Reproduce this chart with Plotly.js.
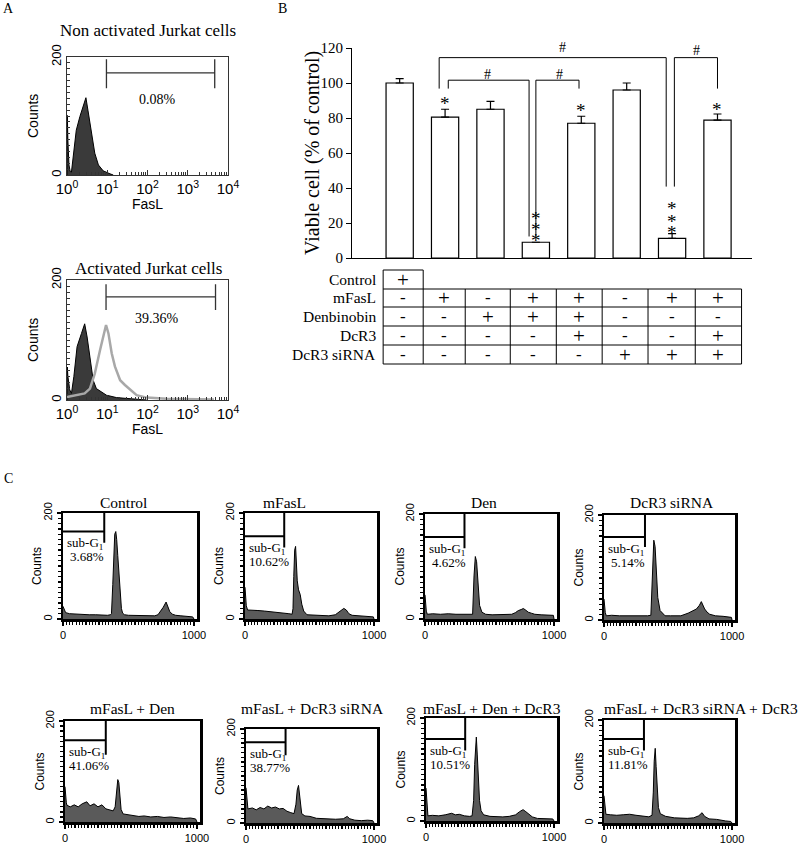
<!DOCTYPE html>
<html><head><meta charset="utf-8">
<script src="https://cdn.plot.ly/plotly-3.0.1.min.js"></script>
<style>body{margin:0;background:#fff}#chart{width:800px;height:846px}</style>
</head><body><div id="chart"></div>
<script>
// ================= DATA =================
// Panel A: FasL flow cytometry (log FasL, counts)
const nonActFasL   = [1, 1.02, 1.05, 1.12, 1.2, 1.29, 1.41, 1.7, 2.09, 2.51, 2.95, 3.31, 4.07, 4.9, 6.03, 7.94, 11.7, 14.1];
const nonActCounts = [0, 101, 60, 17, 6, 5, 31, 76, 99, 118, 131, 110, 70, 37, 17, 7, 2, 0];
const actBlackFasL   = [1, 1.02, 1.05, 1.17, 1.29, 1.48, 1.78, 2.29, 2.75, 3.16, 3.72, 4.47, 5.37, 7.24, 9.55, 17, 44.7, 95.5];
const actBlackCounts = [0, 55, 40, 17, 11, 39, 89, 111, 127, 105, 67, 33, 19, 14, 8, 4, 2, 0];
const actGrayFasL   = [1, 1.7, 2.75, 3.72, 4.9, 6.61, 7.94, 9.33, 10.7, 12.9, 15.5, 20.9, 27.5, 37.2, 53.7, 95.5, 302, 4467];
const actGrayCounts = [5, 8, 11, 19, 44, 83, 108, 125, 111, 78, 56, 33, 25, 17, 8, 4, 2, 1];
const aTitles = ['Non activated Jurkat cells', 'Activated Jurkat cells'];
const aPercents = ['0.08%', '39.36%'];
const aTickVals = [1, 10, 100, 1000, 10000];
const aTickText = ['10<sup>0</sup>', '10<sup>1</sup>', '10<sup>2</sup>', '10<sup>3</sup>', '10<sup>4</sup>'];

// Panel B: viability
const treatments = ['Control', 'mFasL', 'Den', 'mFasL+Den', 'mFasL+Den+DcR3', 'DcR3 siRNA', 'mFasL+DcR3 siRNA', 'mFasL+DcR3 siRNA+DcR3'];
const viable    = [100, 80.5, 85, 9, 77, 96, 11.2, 78.8];
const viableErr = [2.5, 4.5, 4.5, 0, 4, 4, 2.7, 3.5];
const yTicksB   = [0, 20, 40, 60, 80, 100, 120];
const rowLabels  = ['Control', 'mFasL', 'Denbinobin', 'DcR3', 'DcR3 siRNA'];
const rowControl = ['+'];
const rowMFasL   = ['-', '+', '-', '+', '+', '-', '+', '+'];
const rowDen     = ['-', '-', '+', '+', '+', '-', '-', '-'];
const rowDcR3    = ['-', '-', '-', '-', '+', '-', '-', '+'];
const rowSiRNA   = ['-', '-', '-', '-', '-', '+', '+', '+'];

// Panel C: cell cycle histograms (channel, counts)
const ctrlCh = [0, 8, 20, 50, 100, 150, 200, 250, 300, 340, 362, 370, 380, 387, 395, 403, 410, 418, 428, 437, 446, 455, 470, 500, 550, 600, 650, 700, 725, 745, 765, 787, 800, 815, 835, 860, 900, 950, 990, 1000];
const ctrlCt = [24, 20, 12, 10, 9, 8, 8, 8, 7, 7, 8, 10, 65, 135, 160, 165, 150, 120, 84, 40, 20, 11, 8, 7, 7, 6, 6, 6, 8, 14, 22, 32, 24, 14, 9, 7, 6, 5, 4, 0];
const fasCh = [0, 5, 10, 20, 50, 100, 150, 200, 250, 300, 340, 365, 372, 378, 385, 392, 398, 405, 415, 428, 440, 455, 480, 550, 600, 650, 700, 730, 750, 766, 785, 805, 830, 870, 950, 995, 1000];
const fasCt = [60, 40, 25, 17, 17, 16, 15, 14, 13, 12, 10, 9, 20, 80, 130, 137, 110, 72, 55, 46, 28, 15, 8, 7, 6, 6, 8, 13, 18, 20, 17, 10, 7, 6, 5, 4, 0];
const denCh = [0, 5, 10, 18, 60, 120, 180, 240, 300, 340, 369, 380, 390, 400, 410, 423, 441, 470, 520, 580, 640, 672, 700, 723, 745, 762, 780, 800, 825, 851, 900, 950, 995, 1000];
const denCt = [46, 30, 15, 9, 10, 9, 10, 9, 9, 8, 9, 82, 119, 109, 63, 26, 13, 9, 8, 8, 9, 9, 12, 16, 18, 20, 17, 13, 11, 9, 8, 8, 7, 0];
const siCh = [0, 5, 10, 18, 60, 120, 180, 240, 300, 340, 366, 379, 389, 399, 410, 420, 438, 477, 520, 600, 657, 690, 722, 745, 760, 786, 805, 825, 870, 930, 995, 1000];
const siCt = [40, 25, 14, 8, 9, 8, 8, 8, 7, 8, 9, 75, 152, 140, 88, 43, 18, 8, 8, 8, 13, 17, 21, 28, 35, 21, 15, 11, 8, 7, 5, 0];
const fasDenCh = [0, 5, 10, 15, 40, 70, 100, 130, 165, 190, 220, 250, 280, 310, 340, 365, 380, 392, 400, 408, 415, 425, 440, 480, 520, 560, 600, 650, 700, 750, 800, 850, 900, 950, 990, 1000];
const fasDenCt = [70, 50, 38, 33, 30, 34, 30, 36, 40, 32, 36, 30, 34, 26, 24, 22, 30, 60, 84, 78, 50, 25, 16, 14, 13, 11, 12, 10, 11, 9, 10, 8, 7, 8, 6, 0];
const fasSiCh = [0, 5, 10, 15, 50, 80, 110, 140, 170, 200, 230, 260, 290, 320, 350, 375, 390, 400, 410, 418, 425, 435, 460, 500, 550, 600, 650, 700, 760, 790, 810, 850, 900, 950, 990, 1000];
const fasSiCt = [75, 55, 40, 30, 32, 28, 33, 30, 36, 32, 34, 30, 31, 25, 22, 20, 40, 70, 80, 60, 35, 20, 15, 14, 10, 9, 9, 8, 9, 14, 9, 6, 5, 6, 5, 0];
const fasDenDcCh = [0, 5, 10, 15, 50, 100, 150, 200, 230, 260, 300, 340, 360, 372, 380, 388, 393, 400, 408, 418, 430, 450, 500, 550, 600, 650, 700, 730, 758, 780, 800, 830, 870, 950, 990, 1000];
const fasDenDcCt = [64, 40, 20, 10, 11, 10, 12, 15, 12, 13, 10, 9, 10, 40, 110, 160, 163, 130, 80, 40, 20, 12, 9, 8, 8, 9, 12, 18, 22, 18, 14, 8, 5, 4, 4, 0];
const fasSiDcCh = [0, 5, 10, 15, 50, 100, 150, 200, 250, 300, 350, 375, 385, 392, 400, 407, 415, 425, 440, 480, 550, 600, 650, 700, 740, 766, 785, 820, 880, 950, 990, 1000];
const fasSiDcCt = [53, 35, 22, 17, 16, 15, 16, 17, 15, 14, 12, 15, 60, 120, 145, 110, 60, 30, 18, 13, 10, 9, 9, 10, 14, 20, 13, 8, 7, 4, 3, 0];
const cTitles = ['Control', 'mFasL', 'Den', 'DcR3 siRNA', 'mFasL + Den', 'mFasL + DcR3 siRNA', 'mFasL + Den + DcR3', 'mFasL + DcR3 siRNA + DcR3'];
const cPercents = ['3.68%', '10.62%', '4.62%', '5.14%', '41.06%', '38.77%', '10.51%', '11.81%'];
const gateChannel = [315, 304, 306, 320, 309, 309, 306, 312];
const gateLevel   = [165, 156, 156, 158, 162, 172, 159, 163];
const gateBottom  = [144, 135, 135, 139, 133, 144, 137, 141];

// ================= LAYOUT HELPERS =================
const W = 800, H = 846;
const serif = '"Liberation Serif","Times New Roman",serif';
const sans = '"Liberation Sans",Arial,sans-serif';
const xd = (a, b) => [a / W, b / W];
const yd = (t, b) => [1 - b / H, 1 - t / H];
const annotations = [], shapes = [], traces = [];
function txt(text, px, py, size, family, extra) {
  annotations.push(Object.assign({
    text: text, x: px / W, y: 1 - py / H, xref: 'paper', yref: 'paper', showarrow: false,
    xanchor: 'center', yanchor: 'middle', font: {family: family || serif, size: size || 14, color: '#000'}
  }, extra || {}));
}
const layout = {
  width: W, height: H, margin: {l: 0, r: 0, t: 0, b: 0},
  paper_bgcolor: '#fff', plot_bgcolor: 'rgba(0,0,0,0)', showlegend: false,
  annotations: annotations, shapes: shapes, font: {family: serif, color: '#000'}
};

// ================= PANEL A =================
const minorLog = [];
for (let d = 0; d < 4; d++) for (let k = 2; k <= 9; k++) minorLog.push(k * Math.pow(10, d));
const aFrames = [[67, 228, 57, 175], [67, 228, 280, 400]];
aFrames.forEach((f, i) => {
  const n = i === 0 ? '' : '2';
  layout['xaxis' + n] = {
    domain: xd(f[0], f[1]), anchor: 'y' + n, type: 'log', range: [0, 4],
    showline: true, mirror: true, linecolor: '#333', linewidth: 1, showgrid: false, zeroline: false,
    tickvals: aTickVals, ticktext: aTickText, ticks: 'inside', ticklen: 5, tickcolor: '#333',
    tickfont: {family: sans, size: 15, color: '#000'},
    minor: {ticks: 'inside', ticklen: 3, tickvals: minorLog, tickcolor: '#333'}
  };
  layout['yaxis' + n] = {
    domain: yd(f[2], f[3]), anchor: 'x' + n, range: [0, 200],
    showline: true, mirror: true, linecolor: '#333', linewidth: 1, showgrid: false, zeroline: false,
    tickvals: [0, 200], ticks: 'inside', ticklen: 5, tickangle: -90, tickcolor: '#333',
    tickfont: {family: sans, size: 13, color: '#000'},
    minor: {ticks: 'inside', ticklen: 3, dtick: 10, tickcolor: '#333'}
  };
  txt(aTitles[i], 148, i === 0 ? 30 : 268, 17, serif);
  txt('Counts', 33, (f[2] + f[3]) / 2, 14, sans, {textangle: -90});
  txt('FasL', 147, f[3] + 29, 14, sans);
  txt(aPercents[i], 157, i === 0 ? 99 : 318, 14, serif);
});
traces.push({type: 'scatter', mode: 'lines', x: nonActFasL, y: nonActCounts, xaxis: 'x', yaxis: 'y',
  fill: 'tozeroy', fillcolor: '#3a3a3a', line: {color: '#000', width: 1}});
traces.push({type: 'scatter', mode: 'lines', x: [9.55, 9.55, 9.55, 4677, 4677, 4677], y: [196, 147, 173, 173, 196, 147],
  xaxis: 'x', yaxis: 'y', line: {color: '#333', width: 1.3}});
traces.push({type: 'scatter', mode: 'lines', x: actBlackFasL, y: actBlackCounts, xaxis: 'x2', yaxis: 'y2',
  fill: 'tozeroy', fillcolor: '#3a3a3a', line: {color: '#000', width: 1}});
traces.push({type: 'scatter', mode: 'lines', x: actGrayFasL, y: actGrayCounts, xaxis: 'x2', yaxis: 'y2',
  line: {color: '#a8a8a8', width: 2.5}});
traces.push({type: 'scatter', mode: 'lines', x: [9.33, 9.33, 9.33, 4898, 4898, 4898], y: [193, 150, 172, 172, 193, 150],
  xaxis: 'x2', yaxis: 'y2', line: {color: '#333', width: 1.3}});
txt('A', 8, 9, 14, serif);

// ================= PANEL B =================
layout.xaxis3 = {domain: xd(352, 752), anchor: 'y3', range: [-1.05, 7.76], showline: true, linecolor: '#000', linewidth: 1,
  showgrid: false, zeroline: false, ticks: '', showticklabels: false};
layout.yaxis3 = {domain: yd(48, 258), anchor: 'x3', range: [0, 120], showline: true, linecolor: '#000', linewidth: 1,
  showgrid: false, zeroline: false, tickvals: yTicksB, ticks: 'outside', ticklen: 5, tickcolor: '#000',
  tickfont: {family: serif, size: 15, color: '#000'}};
traces.push({type: 'bar', x: treatments.map((_, i) => i), y: viable, xaxis: 'x3', yaxis: 'y3', width: 0.6,
  marker: {color: '#fff', line: {color: '#000', width: 1.2}},
  error_y: {type: 'data', array: viableErr, arrayminus: viableErr.map(() => 0), symmetric: false, color: '#000', thickness: 1.2, width: 4}});
// significance brackets
const brackets = [
  {x: [0.87, 0.87, 5.87, 5.87], y: [96.8, 114.5, 114.5, 40.8]},
  {x: [1.07, 1.07, 2.85, 2.85], y: [96.8, 101.6, 101.6, 12.3]},
  {x: [3.0, 3.0, 3.95, 3.95], y: [12.3, 101.6, 101.6, 96.8]},
  {x: [6.05, 6.05, 7.0, 7.0], y: [40.8, 114.5, 114.5, 96.8]}
];
brackets.forEach(b => traces.push({type: 'scatter', mode: 'lines', x: b.x, y: b.y, xaxis: 'x3', yaxis: 'y3',
  line: {color: '#000', width: 1}, cliponaxis: false}));
function bAnn(text, x, y, size, fam) {
  annotations.push({text: text, x: x, y: y, xref: 'x3', yref: 'y3', showarrow: false, xanchor: 'center', yanchor: 'middle',
    font: {family: fam || serif, size: size, color: '#000'}});
}
[[1, 88], [4, 84.3], [7, 84.7], [3, 22.6], [3, 16], [3, 9.9], [6, 28], [6, 21.1], [6, 14.7]].forEach(p => bAnn('*', p[0], p[1], 19));
[[3.58, 120], [1.93, 105], [3.51, 105], [6.53, 118.7]].forEach(p => bAnn('#', p[0], p[1], 14));
txt('Viable cell (% of control)', 312, 153, 20, serif, {textangle: -90});
txt('B', 282, 8, 14, serif);

// table under bars
const colB = [-0.364, 0.518, 1.444, 2.436, 3.45, 4.46, 5.47, 6.51, 7.53];
const rowY = [270, 289, 307, 326, 345, 364];
function hline(x0, x1, py) { shapes.push({type: 'line', xref: 'x3', yref: 'paper', x0: x0, x1: x1, y0: 1 - py / H, y1: 1 - py / H, line: {color: '#000', width: 1}}); }
function vline(x, py0, py1) { shapes.push({type: 'line', xref: 'x3', yref: 'paper', x0: x, x1: x, y0: 1 - py0 / H, y1: 1 - py1 / H, line: {color: '#000', width: 1}}); }
hline(colB[0], colB[1], rowY[0]);
for (let r = 1; r < rowY.length; r++) hline(colB[0], colB[8], rowY[r]);
vline(colB[0], rowY[0], rowY[5]);
vline(colB[1], rowY[0], rowY[5]);
for (let c = 2; c < colB.length; c++) vline(colB[c], rowY[1], rowY[5]);
const rows = [rowControl, rowMFasL, rowDen, rowDcR3, rowSiRNA];
rows.forEach((row, r) => {
  const cy = (rowY[r] + rowY[r + 1]) / 2;
  txt(rowLabels[r], 378, cy, 15.5, serif, {xanchor: 'right'});
  row.forEach((s, c) => {
    annotations.push({text: s, x: (colB[c] + colB[c + 1]) / 2, y: 1 - cy / H, xref: 'x3', yref: 'paper', showarrow: false,
      xanchor: 'center', yanchor: 'middle', font: {family: serif, size: s === '+' ? 21 : 17, color: '#000'}});
  });
});

// ================= PANEL C =================
const cCh = [ctrlCh, fasCh, denCh, siCh, fasDenCh, fasSiCh, fasDenDcCh, fasSiDcCh];
const cCt = [ctrlCt, fasCt, denCt, siCt, fasDenCt, fasSiCt, fasDenDcCt, fasSiDcCt];
const cFrames = [[63, 197, 513, 619], [245, 377, 513, 619], [425, 557, 514, 619], [604, 735, 515, 620],
                 [65, 200, 721, 822], [246, 377, 729, 823], [426, 557, 718, 821], [604, 735, 720, 823]];
const cTitleX = [123, 284, 484, 672, 132, 312, 492, 701];
cFrames.forEach((f, i) => {
  const n = i + 4, l = f[0], r = f[1], t = f[2], b = f[3];
  layout['xaxis' + n] = {
    domain: xd(l, r), anchor: 'y' + n, range: [0, 1023], showline: true, mirror: true, linecolor: '#000', linewidth: 2.5,
    showgrid: false, zeroline: false, tickvals: [0, 1000], ticks: 'outside', ticklen: 4, tickwidth: 1.5,
    tickcolor: '#000', tickfont: {family: sans, size: 11, color: '#000'},
    minor: {ticks: 'outside', ticklen: 3, tickmode: 'linear', tick0: 0, dtick: 25, tickwidth: 1.2, tickcolor: '#000'}
  };
  layout['yaxis' + n] = {
    domain: yd(t, b), anchor: 'x' + n, range: [0, 200], showline: true, mirror: true, linecolor: '#000', linewidth: 2.5,
    showgrid: false, zeroline: false, tickvals: [0, 200], ticks: 'outside', ticklen: 4, tickwidth: 1.5, tickangle: -90,
    tickcolor: '#000', tickfont: {family: sans, size: 11, color: '#000'},
    minor: {ticks: 'outside', ticklen: 3, tickmode: 'linear', tick0: 0, dtick: 10, tickwidth: 1.2, tickcolor: '#000'}
  };
  traces.push({type: 'scatter', mode: 'lines', x: cCh[i], y: cCt[i], xaxis: 'x' + n, yaxis: 'y' + n,
    fill: 'tozeroy', fillcolor: '#5a5a5a', line: {color: '#000', width: 1}});
  const gx = gateChannel[i];
  traces.push({type: 'scatter', mode: 'lines', x: [0, gx, gx, gx], y: [gateLevel[i], gateLevel[i], 200, gateBottom[i]],
    xaxis: 'x' + n, yaxis: 'y' + n, line: {color: '#000', width: 2}});
  const hy = b - gateLevel[i] / 200 * (b - t);
  txt('sub-G<sub>1</sub>', l + 22, hy + 12, 13, serif);
  txt(cPercents[i], l + 24, hy + 25, 13, serif);
  txt(cTitles[i], cTitleX[i], i < 4 ? 502 : 708, 15.5, serif);
  txt('Counts', l - 26, (t + b) / 2, 12, sans, {textangle: -90});
});
txt('C', 8, 478, 14, serif);

Plotly.newPlot('chart', traces, layout, {displayModeBar: false, staticPlot: true});
</script>
</body></html>
